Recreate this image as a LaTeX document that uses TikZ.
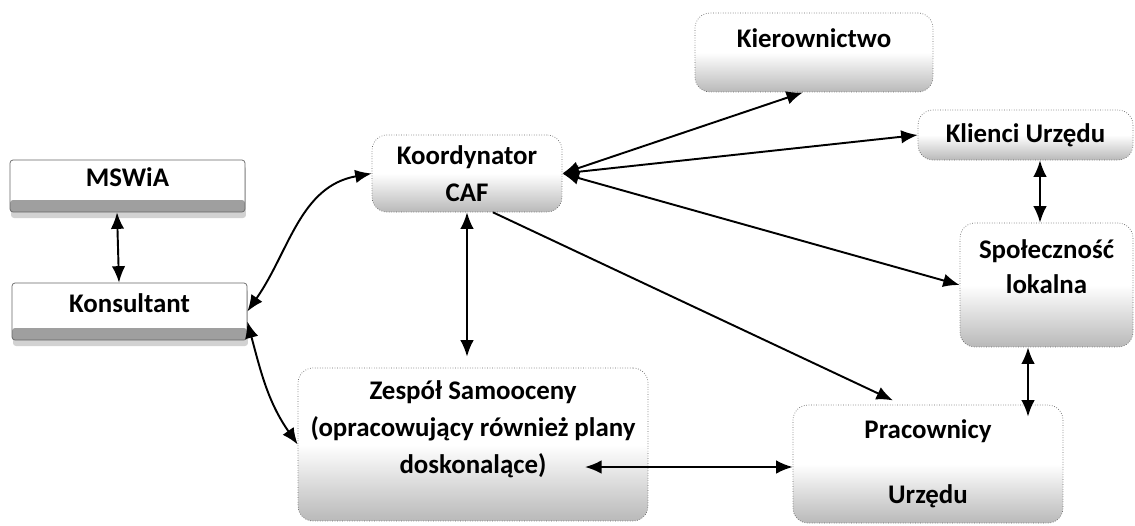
\documentclass[tikz,border=0pt]{standalone}
\usepackage{fontspec}
\setmainfont{Carlito}
\usetikzlibrary{arrows.meta,shadows}

\begin{document}
\begin{tikzpicture}[x=0.02cm, y=-0.02cm,
  every node/.style={font=\bfseries\fontsize{15.3}{21}\selectfont, align=center, inner sep=0pt},
  box/.style={draw=black!60, densely dotted, rounded corners=0.3cm, top color=white, bottom color=gray!55, middle color=white},
  bar/.style={draw=black!60, rounded corners=0.06cm, fill=white,
    drop shadow={shadow xshift=0.02cm, shadow yshift=-0.12cm, fill=gray!35, opacity=1},
    path picture={\fill[gray!75] ([yshift=0.24cm]path picture bounding box.south west) rectangle (path picture bounding box.south east);}},
  link/.style={{Latex[length=0.33cm,width=0.27cm]}-{Latex[length=0.33cm,width=0.27cm]}, line width=1.1pt},
  arr/.style={-{Latex[length=0.33cm,width=0.27cm]}, line width=1.1pt}]
  \useasboundingbox (0,0) rectangle (1135,525);
  % boxes
  \node [bar, minimum width=4.7cm, minimum height=1.04cm, text depth=10pt] (mswia) at (127.5,186) {MSWiA};
  \node [bar, minimum width=4.7cm, minimum height=1.14cm, text depth=10pt] (kons) at (129.5,311.5) {Konsultant};
  \node [box, minimum width=3.8cm, minimum height=1.54cm] (koord) at (467,173.5) {Koordynator\\CAF};
  \node [box, minimum width=4.76cm, minimum height=1.58cm, text depth=16.5pt] (kier) at (814,52.5) {Kierownictwo};
  \node [box, minimum width=4.3cm, minimum height=1.0cm] (klienci) at (1025.5,135) {Klienci Urzędu};
  \node [box, minimum width=3.46cm, minimum height=2.48cm, text depth=21pt] (spol) at (1046.5,285) {Społeczność\\[-1pt]lokalna};
  \node [box, minimum width=7cm, minimum height=3.06cm, text depth=20pt] (zesp) at (473,444.5) {Zespół Samooceny\\(opracowujący również plany\\doskonalące)};
  \node [box, minimum width=5.4cm, minimum height=2.36cm] (prac) at (928,464) {Pracownicy\\[16pt]Urzędu};
  % connectors
  \draw [link] ([xshift=-0.21cm]mswia.south) -- ([xshift=-0.21cm]kons.north);
  \draw [link] (kons.east) to[out=55, in=190] (koord.west);
  \draw [link] ([yshift=-0.2cm]kons.east) to[out=-75, in=125] (zesp.west);
  \draw [link, shorten >=0.22cm] (koord.south) -- (koord.south |- zesp.north);
  \draw [link] (koord.east) -- ([xshift=-0.22cm]kier.south);
  \draw [link] (koord.east) -- (klienci.west);
  \draw [link] (koord.east) -- (spol.west);
  \draw [arr, shorten >=0.2cm] ([xshift=0.52cm]koord.south) -- ([xshift=-0.52cm]prac.north);
  \draw [link] ([xshift=0.29cm]klienci.south) -- ([xshift=0.29cm]klienci.south |- spol.north);
  \draw [link, shorten >=-0.24cm] ([xshift=-0.37cm]spol.south) -- ([xshift=-0.37cm]spol.south |- prac.north);
  \coordinate (zs) at (585,467);
  \draw [link] (zs) -- (zs -| prac.west);
\end{tikzpicture}
\end{document}
